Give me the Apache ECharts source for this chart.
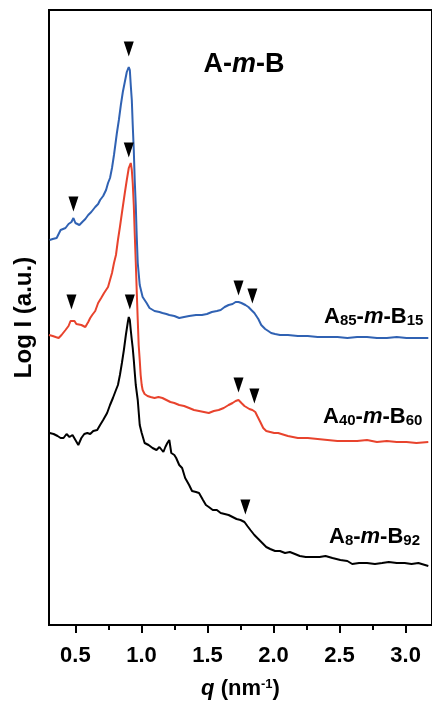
<!DOCTYPE html>
<html>
<head>
<meta charset="utf-8">
<script src="https://cdn.jsdelivr.net/npm/echarts@6/dist/echarts.min.js"></script>
<style>
  html, body { margin: 0; padding: 0; background: #fff; }
  #chart { width: 432px; height: 706px; }
</style>
</head>
<body>
<div id="chart"></div>
<script>
// SAXS profiles, q in nm^-1, Log I in arbitrary (offset) units
var qTicks = [0.5, 1.0, 1.5, 2.0, 2.5, 3.0];
var qMinorTicks = [0.75, 1.25, 1.75, 2.25, 2.75];

var a85Curve = [
  [0.305, 385], [0.328, 386], [0.358, 387], [0.388, 395], [0.425, 397], [0.448, 401],
  [0.470, 403], [0.485, 407], [0.500, 402], [0.515, 404], [0.530, 400], [0.552, 403],
  [0.575, 406], [0.597, 410], [0.620, 413], [0.650, 418], [0.672, 421], [0.687, 425],
  [0.710, 429], [0.732, 435], [0.747, 442], [0.762, 447], [0.777, 457], [0.792, 470],
  [0.807, 485], [0.814, 492], [0.829, 505], [0.844, 520], [0.859, 533], [0.874, 543],
  [0.889, 553], [0.904, 558], [0.912, 555], [0.919, 540], [0.927, 525], [0.934, 500],
  [0.942, 475], [0.949, 445], [0.957, 420], [0.964, 390], [0.972, 362], [0.987, 340],
  [1.009, 328], [1.039, 322], [1.061, 317], [1.099, 314], [1.136, 313], [1.159, 312],
  [1.189, 311], [1.211, 310], [1.249, 309], [1.286, 307], [1.323, 308], [1.361, 309],
  [1.413, 310], [1.458, 310], [1.496, 311], [1.533, 313], [1.571, 314], [1.600, 315],
  [1.630, 318], [1.660, 320], [1.690, 321], [1.713, 323], [1.735, 323], [1.757, 322],
  [1.787, 320], [1.810, 318], [1.832, 315], [1.855, 312], [1.885, 306], [1.907, 300],
  [1.937, 296], [1.960, 294], [1.982, 292], [2.012, 291], [2.049, 290], [2.109, 290],
  [2.184, 289], [2.259, 289], [2.334, 288], [2.409, 288], [2.484, 288], [2.559, 287],
  [2.633, 288], [2.708, 288], [2.783, 287], [2.858, 287], [2.933, 288], [3.007, 287],
  [3.082, 287], [3.172, 287]
];

var a40Curve = [
  [0.300, 290], [0.328, 289], [0.350, 288], [0.373, 287], [0.395, 290], [0.410, 288],
  [0.425, 295], [0.448, 299], [0.463, 304], [0.478, 306], [0.493, 304], [0.507, 301],
  [0.522, 303], [0.545, 300], [0.560, 298], [0.575, 298], [0.597, 303], [0.612, 307],
  [0.627, 310], [0.650, 314], [0.672, 322], [0.695, 327], [0.717, 332], [0.732, 335],
  [0.747, 338], [0.762, 345], [0.777, 352], [0.792, 362], [0.807, 370], [0.822, 385],
  [0.837, 398], [0.852, 412], [0.874, 432], [0.889, 445], [0.904, 457], [0.919, 462],
  [0.927, 455], [0.934, 442], [0.942, 420], [0.949, 392], [0.957, 363], [0.964, 335],
  [0.972, 305], [0.979, 280], [0.987, 265], [0.994, 250], [1.002, 240], [1.009, 235],
  [1.024, 231], [1.046, 229], [1.069, 228], [1.099, 227], [1.129, 228], [1.159, 227],
  [1.189, 225], [1.219, 223], [1.249, 222], [1.286, 220], [1.323, 219], [1.361, 217],
  [1.398, 215], [1.436, 214], [1.473, 213], [1.510, 212], [1.548, 214], [1.585, 215],
  [1.623, 217], [1.660, 220], [1.690, 222], [1.713, 224], [1.735, 225], [1.757, 222],
  [1.780, 219], [1.795, 217], [1.817, 216], [1.840, 215], [1.862, 213], [1.877, 209],
  [1.900, 203], [1.922, 197], [1.945, 194], [1.975, 193], [2.005, 192], [2.035, 192],
  [2.109, 189], [2.184, 187], [2.259, 187], [2.334, 186], [2.409, 185], [2.484, 184],
  [2.559, 184], [2.633, 184], [2.708, 185], [2.783, 183], [2.858, 184], [2.933, 183],
  [3.007, 183], [3.082, 182], [3.172, 183]
];

var a8Curve = [
  [0.305, 192], [0.335, 191], [0.365, 189], [0.388, 187], [0.410, 187], [0.433, 191],
  [0.455, 188], [0.478, 190], [0.500, 185], [0.522, 180], [0.545, 187], [0.567, 191],
  [0.590, 192], [0.612, 191], [0.635, 194], [0.665, 195], [0.687, 200], [0.710, 205],
  [0.740, 212], [0.762, 220], [0.784, 227], [0.807, 235], [0.822, 240], [0.837, 250],
  [0.852, 262], [0.867, 275], [0.882, 290], [0.897, 303], [0.904, 308], [0.912, 305],
  [0.919, 295], [0.927, 285], [0.934, 277], [0.942, 265], [0.949, 253], [0.957, 240],
  [0.972, 225], [0.987, 200], [1.002, 192], [1.024, 182], [1.054, 180], [1.084, 177],
  [1.114, 175], [1.136, 178], [1.151, 180], [1.166, 173], [1.181, 178], [1.196, 182],
  [1.211, 185], [1.226, 172], [1.249, 170], [1.263, 167], [1.286, 160], [1.308, 157],
  [1.331, 147], [1.361, 140], [1.383, 134], [1.413, 133], [1.436, 132], [1.466, 125],
  [1.488, 120], [1.510, 118], [1.540, 115], [1.571, 115], [1.600, 112], [1.630, 111],
  [1.660, 110], [1.690, 108], [1.720, 106], [1.750, 105], [1.780, 103], [1.802, 99],
  [1.825, 95], [1.855, 90], [1.885, 86], [1.915, 82], [1.945, 78], [1.975, 76],
  [2.012, 74], [2.049, 74], [2.087, 72], [2.124, 73], [2.162, 71], [2.199, 69],
  [2.244, 68], [2.296, 68], [2.349, 68], [2.394, 69], [2.446, 67], [2.506, 65],
  [2.559, 64], [2.596, 61], [2.648, 62], [2.708, 62], [2.768, 61], [2.822, 62],
  [2.873, 63], [2.933, 62], [2.993, 62], [3.045, 61], [3.097, 62], [3.172, 59]
];

// peak markers (reflection positions)
var a85Peaks = [[0.904, 576], [0.485, 421], [1.735, 337], [1.840, 329]];
var a40Peaks = [[0.904, 475], [0.470, 323], [1.735, 240], [1.855, 229]];
var a8Peaks = [[0.912, 323], [1.787, 118]];

var FONT = "'Liberation Sans', Arial, Helvetica, sans-serif";

var chart = echarts.init(document.getElementById('chart'));

function labelStyle(main, sub1, sub2, x, y) {
    return {
        type: 'text',
        style: {
            text: main[0] + '{s|' + sub1 + '}-{i|m}-' + main[1] + '{s|' + sub2 + '}',
            x: x,
            y: y,
            align: 'left',
            verticalAlign: 'middle',
            fill: '#000',
            font: 'bold 22px ' + FONT,
            rich: {
                s: { fontSize: 15, fontWeight: 'bold', fontFamily: FONT, verticalAlign: 'bottom', fill: '#000' },
                i: { fontSize: 22, fontWeight: 'bold', fontStyle: 'italic', fontFamily: FONT, fill: '#000' }
            }
        }
    };
}

function marker(data) {
    return {
        type: 'scatter',
        data: data,
        symbol: 'triangle',
        symbolRotate: 180,
        symbolSize: [10, 15],
        itemStyle: { color: '#000', opacity: 1 },
        z: 5,
        silent: true
    };
}

function curve(data, color) {
    return {
        type: 'line',
        data: data,
        showSymbol: false,
        lineStyle: { color: color, width: 2 },
        itemStyle: { color: color },
        z: 3,
        silent: true
    };
}

var option = {
    backgroundColor: '#fff',
    animation: false,
    textStyle: { fontFamily: FONT },
    grid: {
        left: 49, top: 10, width: 387, height: 615,
        show: true, borderColor: '#000', borderWidth: 2
    },
    xAxis: [{
        type: 'value',
        min: 0.3,
        max: 3.2,
        position: 'bottom',
        axisLine: { lineStyle: { color: '#000', width: 2 } },
        axisTick: { customValues: qTicks, length: 8, lineStyle: { color: '#000', width: 2 } },
        axisLabel: {
            customValues: qTicks,
            margin: 20,
            color: '#000',
            fontSize: 22,
            fontWeight: 'bold',
            formatter: function (v) { return v.toFixed(1); }
        },
        splitLine: { show: false },
        name: '{i|q} (nm{sup|-1})',
        nameLocation: 'middle',
        nameGap: 53,
        nameTextStyle: {
            color: '#000',
            fontSize: 22,
            fontWeight: 'bold',
            rich: {
                i: { fontSize: 22, fontWeight: 'bold', fontStyle: 'italic', color: '#000' },
                sup: { fontSize: 13, fontWeight: 'bold', color: '#000', verticalAlign: 'top' }
            }
        }
    }, {
        type: 'value',
        min: 0.3,
        max: 3.2,
        position: 'bottom',
        axisLine: { show: false },
        axisTick: { customValues: qMinorTicks, length: 5, lineStyle: { color: '#000', width: 2 } },
        axisLabel: { show: false },
        splitLine: { show: false }
    }],
    yAxis: {
        type: 'value',
        min: 0,
        max: 615,
        axisLine: { show: true, lineStyle: { color: '#000', width: 2 } },
        axisTick: { show: false },
        axisLabel: { show: false },
        splitLine: { show: false },
        name: 'Log I (a.u.)',
        nameLocation: 'middle',
        nameGap: 13,
        nameTextStyle: { color: '#000', fontSize: 24, fontWeight: 'bold' }
    },
    series: [
        curve(a8Curve, '#000000'),
        curve(a40Curve, '#e8432d'),
        curve(a85Curve, '#3062b3'),
        marker(a85Peaks),
        marker(a40Peaks),
        marker(a8Peaks)
    ],
    graphic: [
        {
            type: 'text',
            style: {
                text: 'A-{i|m}-B',
                x: 244,
                y: 65,
                align: 'center',
                verticalAlign: 'middle',
                fill: '#000',
                font: 'bold 27px ' + FONT,
                rich: {
                    i: { fontSize: 27, fontWeight: 'bold', fontStyle: 'italic', fontFamily: FONT, fill: '#000' }
                }
            }
        },
        labelStyle(['A', 'B'], '85', '15', 324, 317),
        labelStyle(['A', 'B'], '40', '60', 323, 417),
        labelStyle(['A', 'B'], '8', '92', 329, 537)
    ]
};

chart.setOption(option);
</script>
</body>
</html>
